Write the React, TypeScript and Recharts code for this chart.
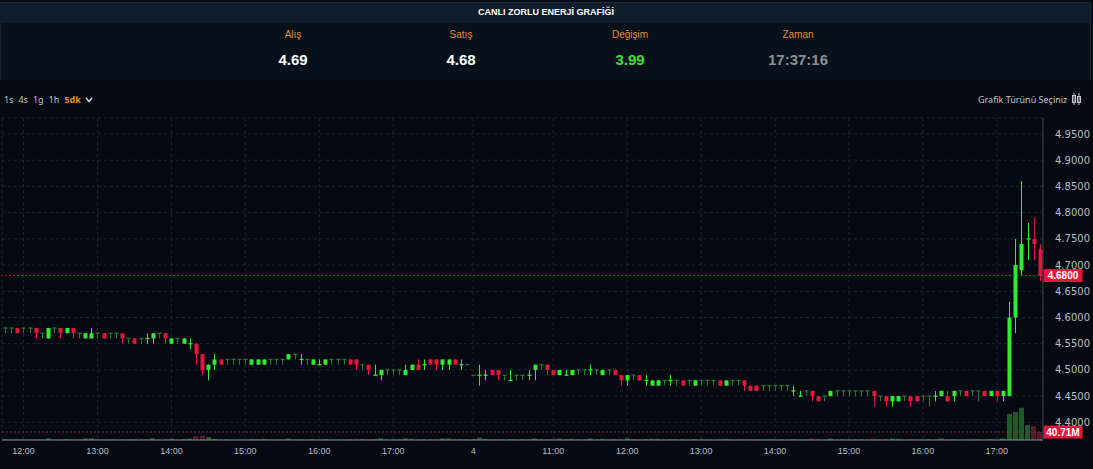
import React from 'react';
import { ComposedChart, Bar, XAxis, YAxis, CartesianGrid, ReferenceLine } from 'recharts';

// ---- data (5-minute candles, two sessions) ----
const opens = [
  4.58,4.58,4.58,4.58,4.58,4.58,4.57,4.56,4.58,4.58,
  4.57,4.58,4.57,4.56,4.56,4.57,4.57,4.57,4.57,4.57,
  4.56,4.56,4.56,4.56,4.56,4.57,4.57,4.55,4.56,4.55,
  4.55,4.55,4.53,4.50,4.51,4.52,4.52,4.52,4.52,4.52,
  4.51,4.51,4.51,4.52,4.52,4.52,4.52,4.53,4.52,4.52,
  4.51,4.51,4.51,4.52,4.52,4.52,4.52,4.52,4.51,4.51,
  4.49,4.49,4.50,4.50,4.50,4.49,4.50,4.51,4.51,4.52,
  4.52,4.51,4.51,4.52,4.51,4.51,4.49,4.49,4.49,4.50,
  4.50,4.49,4.48,4.49,4.49,4.49,4.50,4.51,4.51,4.50,
  4.49,4.49,4.49,4.50,4.50,4.50,4.50,4.49,4.50,4.50,
  4.49,4.48,4.49,4.49,4.48,4.47,4.47,4.48,4.48,4.48,
  4.48,4.48,4.47,4.48,4.48,4.48,4.48,4.47,4.48,4.48,
  4.48,4.47,4.47,4.47,4.47,4.47,4.47,4.47,4.46,4.45,
  4.46,4.46,4.45,4.45,4.45,4.46,4.46,4.46,4.46,4.46,
  4.46,4.46,4.45,4.45,4.44,4.44,4.45,4.45,4.45,4.45,
  4.45,4.45,4.45,4.45,4.45,4.46,4.46,4.46,4.46,4.46,
  4.45,4.46,4.45,4.45,4.60,4.69,4.75,4.75,4.73,
];
const highs = [
  4.58,4.58,4.58,4.58,4.58,4.58,4.57,4.58,4.58,4.58,
  4.58,4.58,4.57,4.57,4.58,4.57,4.57,4.57,4.57,4.57,
  4.56,4.56,4.56,4.57,4.57,4.57,4.57,4.56,4.56,4.56,
  4.56,4.55,4.53,4.51,4.53,4.52,4.52,4.52,4.52,4.52,
  4.52,4.52,4.52,4.52,4.52,4.52,4.53,4.53,4.53,4.52,
  4.52,4.52,4.52,4.52,4.52,4.52,4.52,4.52,4.51,4.51,
  4.51,4.50,4.50,4.50,4.50,4.51,4.51,4.52,4.52,4.52,
  4.52,4.52,4.52,4.52,4.52,4.51,4.49,4.51,4.50,4.50,
  4.50,4.49,4.50,4.49,4.49,4.50,4.51,4.51,4.51,4.50,
  4.50,4.50,4.50,4.50,4.50,4.51,4.50,4.50,4.50,4.50,
  4.49,4.49,4.49,4.49,4.49,4.48,4.48,4.48,4.49,4.48,
  4.48,4.48,4.48,4.48,4.48,4.48,4.48,4.48,4.48,4.48,
  4.48,4.47,4.47,4.47,4.47,4.47,4.47,4.47,4.47,4.46,
  4.46,4.46,4.45,4.45,4.46,4.46,4.46,4.46,4.46,4.46,
  4.46,4.46,4.45,4.45,4.45,4.45,4.45,4.45,4.45,4.45,
  4.45,4.46,4.46,4.46,4.46,4.46,4.46,4.46,4.46,4.46,
  4.46,4.46,4.46,4.63,4.75,4.86,4.78,4.79,4.74,
];
const lows = [
  4.57,4.57,4.57,4.57,4.57,4.56,4.56,4.56,4.57,4.56,
  4.57,4.56,4.56,4.56,4.56,4.56,4.56,4.56,4.56,4.55,
  4.55,4.55,4.55,4.55,4.55,4.56,4.55,4.55,4.55,4.55,
  4.54,4.51,4.49,4.48,4.50,4.51,4.51,4.51,4.51,4.51,
  4.51,4.51,4.51,4.51,4.51,4.51,4.52,4.52,4.51,4.51,
  4.51,4.51,4.51,4.51,4.51,4.51,4.51,4.50,4.50,4.49,
  4.49,4.48,4.49,4.49,4.49,4.49,4.50,4.50,4.50,4.51,
  4.50,4.50,4.50,4.51,4.50,4.51,4.49,4.47,4.48,4.49,
  4.48,4.48,4.48,4.48,4.48,4.48,4.48,4.50,4.49,4.49,
  4.49,4.49,4.49,4.49,4.49,4.49,4.49,4.49,4.49,4.49,
  4.47,4.47,4.48,4.48,4.47,4.47,4.47,4.47,4.47,4.47,
  4.47,4.47,4.47,4.47,4.47,4.47,4.47,4.47,4.47,4.47,
  4.46,4.46,4.46,4.46,4.46,4.46,4.46,4.46,4.45,4.45,
  4.45,4.44,4.44,4.44,4.45,4.45,4.45,4.45,4.45,4.45,
  4.45,4.43,4.44,4.43,4.43,4.44,4.44,4.43,4.44,4.44,
  4.43,4.44,4.45,4.44,4.44,4.45,4.45,4.45,4.44,4.45,
  4.45,4.44,4.44,4.45,4.57,4.68,4.71,4.71,4.67,
];
const closes = [
  4.58,4.58,4.57,4.58,4.58,4.57,4.57,4.58,4.58,4.57,
  4.58,4.57,4.57,4.57,4.57,4.57,4.56,4.57,4.57,4.56,
  4.56,4.55,4.56,4.56,4.57,4.57,4.56,4.56,4.56,4.56,
  4.55,4.53,4.50,4.51,4.52,4.51,4.52,4.52,4.52,4.52,
  4.52,4.52,4.52,4.52,4.52,4.52,4.53,4.53,4.52,4.52,
  4.52,4.51,4.52,4.52,4.52,4.52,4.51,4.51,4.51,4.50,
  4.49,4.50,4.50,4.50,4.50,4.50,4.51,4.50,4.51,4.51,
  4.51,4.52,4.52,4.51,4.51,4.51,4.49,4.49,4.49,4.49,
  4.49,4.49,4.48,4.49,4.49,4.49,4.51,4.51,4.50,4.49,
  4.50,4.49,4.50,4.50,4.50,4.50,4.50,4.50,4.50,4.49,
  4.48,4.49,4.49,4.48,4.48,4.48,4.48,4.48,4.48,4.48,
  4.47,4.48,4.48,4.48,4.48,4.48,4.47,4.48,4.48,4.48,
  4.47,4.46,4.46,4.47,4.47,4.47,4.47,4.47,4.46,4.45,
  4.46,4.45,4.44,4.45,4.46,4.46,4.46,4.46,4.46,4.46,
  4.46,4.45,4.45,4.44,4.45,4.45,4.45,4.44,4.44,4.45,
  4.45,4.45,4.46,4.44,4.46,4.46,4.45,4.46,4.46,4.45,
  4.46,4.45,4.46,4.60,4.70,4.74,4.75,4.74,4.68,
];
// volume in millions
const volumes = [
  3,2,4,2,2,5,2,9,2,4,
  5,4,3,8,9,2,3,2,2,5,
  4,6,2,3,9,2,4,6,2,5,
  7,20,22,15,6,4,3,2,2,2,
  5,5,6,3,3,2,8,3,4,2,
  5,3,5,2,2,2,5,5,4,5,
  4,9,3,2,2,8,6,5,4,5,
  5,8,8,5,4,3,5,13,5,5,
  4,3,4,3,4,3,8,3,5,4,
  7,3,6,3,3,8,3,6,3,6,
  6,9,3,5,4,6,6,3,4,3,
  6,3,5,3,2,2,5,6,2,2,
  5,5,5,2,2,2,3,2,5,3,
  3,8,6,2,8,2,2,2,3,3,
  3,8,3,6,8,6,2,5,4,2,
  4,3,8,5,4,2,4,2,3,4,
  5,4,8,132,143,164,76,71,40.71,
];

const xTickIndex = [3, 15, 27, 39, 51, 63, 76, 89, 101, 113, 125, 137, 149, 161];
const xTickLabels = ['12:00', '13:00', '14:00', '15:00', '16:00', '17:00', '4', '11:00', '12:00', '13:00', '14:00', '15:00', '16:00', '17:00'];
const priceTicks = [4.4, 4.45, 4.5, 4.55, 4.6, 4.65, 4.7, 4.75, 4.8, 4.85, 4.9, 4.95];
const lastPrice = 4.68;
const lastVolume = 40.71;

const headerLabels = ['Alış', 'Satış', 'Değişim', 'Zaman'];
const headerValues = ['4.69', '4.68', '3.99', '17:37:16'];
const periods = ['1s', '4s', '1g', '1h', '5dk'];

const data = opens.map((o, i) => ({
  i,
  open: o,
  high: highs[i],
  low: lows[i],
  close: closes[i],
  vol: volumes[i],
}));

// ---- styles ----
const UP = '#31ec31';
const DOWN = '#e2173b';
const FLAT = '#217c30';
const VOL_UP = '#1c5a2a';
const VOL_DOWN = '#561a2c';
const BG = '#040912';

const Candle = (props: any) => {
  const { x, y, width, height, payload } = props;
  if (x == null || y == null || !payload) return null;
  const { open, close, high, low } = payload;
  const top = Math.min(y, y + (height || 0));
  const h = Math.abs(height || 0);
  const span = high - low;
  const k = span > 0 ? h / span : 0;
  const py = (v: number) => top + (high - v) * k;
  const cx = Math.round(x + width / 2) + 0.5;
  const bw = 4;
  let color = UP;
  if (close < open) color = DOWN;
  else if (close === open && high === open) color = FLAT;
  const yo = py(open);
  const yc = py(close);
  const flat = close === open;
  const bt = flat ? yo - 0.6 : Math.min(yo, yc);
  const bh = flat ? 1.3 : Math.max(Math.abs(yo - yc), 1.3);
  return (
    <g>
      {h > 0 && <line x1={cx} x2={cx} y1={top} y2={top + h} stroke={color} strokeWidth={1} />}
      <rect x={cx - bw / 2} y={bt} width={bw} height={bh} fill={color} />
    </g>
  );
};

const VolBar = (props: any) => {
  const { x, y, width, height, payload } = props;
  if (x == null || !payload) return null;
  const w = 5;
  const up = payload.close >= payload.open;
  return <rect x={Math.round(x + (width - w) / 2)} y={y} width={w} height={Math.max(height, 0)} fill={up ? VOL_UP : VOL_DOWN} />;
};

const Tag = (props: any) => {
  const { viewBox, text } = props;
  if (!viewBox) return null;
  const bx = viewBox.x + viewBox.width + 0.5;
  const by = viewBox.y;
  return (
    <g>
      <rect x={bx} y={by - 6.5} width={39} height={13} fill={DOWN} rx={1.5} />
      <text x={bx + 19.5} y={by + 3.6} textAnchor="middle" fill="#ffffff" fontSize={10} fontWeight={700} fontFamily="'Liberation Sans', Arial, sans-serif">
        {text}
      </text>
    </g>
  );
};

const center = (left: number): React.CSSProperties => ({
  position: 'absolute',
  left,
  transform: 'translateX(-50%)',
  whiteSpace: 'nowrap',
});

export default function App() {
  const labelX = [293, 461, 630, 798];
  const valueColors = ['#ffffff', '#ffffff', '#3be03b', '#8c9096'];
  return (
    <div
      style={{
        position: 'fixed',
        left: 0,
        top: 0,
        width: 1093,
        height: 469,
        background: BG,
        overflow: 'hidden',
        fontFamily: "'Liberation Sans Narrow', 'Liberation Sans', sans-serif",
      }}
    >
      {/* header card */}
      <div style={{ position: 'absolute', left: 0, top: 2, width: 1089, height: 78, background: '#07101b', borderRight: '1px solid #1a2633', borderLeft: '1px solid #1a2633' }} />
      <div style={{ position: 'absolute', left: 0, top: 2, width: 1090, height: 20, background: '#0f1d2b', borderTop: '1px solid #1d2b3a' }} />
      <div style={{ ...center(546), top: 7, color: '#ffffff', fontSize: 9, fontWeight: 700 }}>CANLI ZORLU ENERJİ GRAFİĞİ</div>
      {headerLabels.map((t, i) => (
        <div key={t} style={{ ...center(labelX[i]), top: 29, color: '#e88a2e', fontSize: 10 }}>{t}</div>
      ))}
      {headerValues.map((t, i) => (
        <div key={t + i} style={{ ...center(labelX[i]), top: 51, color: valueColors[i], fontSize: 15, fontWeight: 700 }}>{t}</div>
      ))}

      {/* toolbar */}
      <div style={{ position: 'absolute', left: 4, top: 93, fontSize: 9, fontFamily: "'Noto Sans', sans-serif", color: '#c3c7cf', display: 'flex', gap: 5, alignItems: 'center' }}>
        {periods.map((p, i) => (
          <span key={p} style={{ color: i === periods.length - 1 ? '#f08a24' : '#c3c7cf', fontWeight: i === periods.length - 1 ? 700 : 400 }}>{p}</span>
        ))}
        <svg width={8} height={6} style={{ marginLeft: -1 }}>
          <polyline points="1,1 4,4.5 7,1" fill="none" stroke="#e6e8ec" strokeWidth={1.4} />
        </svg>
      </div>
      <div style={{ position: 'absolute', left: 978, top: 93, fontSize: 9, fontFamily: "'Noto Sans', sans-serif", color: '#c3c7cf' }}>Grafik Türünü Seçiniz</div>
      <svg style={{ position: 'absolute', left: 1071, top: 92 }} width={12} height={14}>
        <line x1={3} x2={3} y1={1} y2={13} stroke="#c3c7cf" />
        <rect x={1.5} y={3.5} width={3} height={7} fill="none" stroke="#c3c7cf" />
        <line x1={8} x2={8} y1={1} y2={13} stroke="#c3c7cf" />
        <rect x={6.5} y={4.5} width={3} height={6} fill="none" stroke="#c3c7cf" />
      </svg>

      {/* chart */}
      <div style={{ position: 'absolute', left: 0, top: 110 }}>
        <ComposedChart
          width={1093}
          height={359}
          data={data}
          margin={{ top: 8, right: 0, bottom: 0, left: 2 }}
          barCategoryGap={0}
          barGap={0}
        >
          <CartesianGrid yAxisId="p" stroke="#1e2530" strokeDasharray="3 3" />
          <XAxis
            dataKey="i"
            type="category"
            ticks={xTickIndex}
            interval={0}
            tickFormatter={(v: any) => xTickLabels[xTickIndex.indexOf(Number(v))] ?? ''}
            axisLine={{ stroke: '#8f8890' }}
            tickLine={false}
            tick={{ fill: '#b9bdc6', fontSize: 9, fontFamily: "'Liberation Sans', sans-serif" }}
            height={29}
          />
          <XAxis xAxisId="v" dataKey="i" type="category" hide />
          <YAxis
            yAxisId="p"
            orientation="right"
            type="number"
            domain={[4.3663, 4.9805]}
            allowDataOverflow
            ticks={priceTicks}
            interval={0}
            tickFormatter={(v: number) => v.toFixed(4)}
            width={50}
            axisLine={{ stroke: '#3b404c' }}
            tickLine={false}
            tickMargin={6}
            tick={{ fill: '#b9bdc6', fontSize: 10, fontFamily: "'DejaVu Sans', sans-serif" }}
          />
          <YAxis yAxisId="v" hide type="number" domain={[0, 1638]} allowDataOverflow />
          <Bar yAxisId="v" xAxisId="v" dataKey="vol" shape={<VolBar />} isAnimationActive={false} />
          <Bar yAxisId="p" dataKey={(d: any) => [d.low, d.high]} shape={<Candle />} isAnimationActive={false} />
          <ReferenceLine
            yAxisId="v"
            xAxisId="v"
            y={lastVolume}
            stroke="#9a2038"
            strokeDasharray="2 2"
            label={<Tag text={`${lastVolume.toFixed(2)}M`} />}
          />
          <ReferenceLine
            yAxisId="p"
            y={lastPrice}
            stroke={DOWN}
            strokeOpacity={0.85}
            strokeDasharray="2 2"
            label={<Tag text={lastPrice.toFixed(4)} />}
          />
        </ComposedChart>
      </div>
    </div>
  );
}
